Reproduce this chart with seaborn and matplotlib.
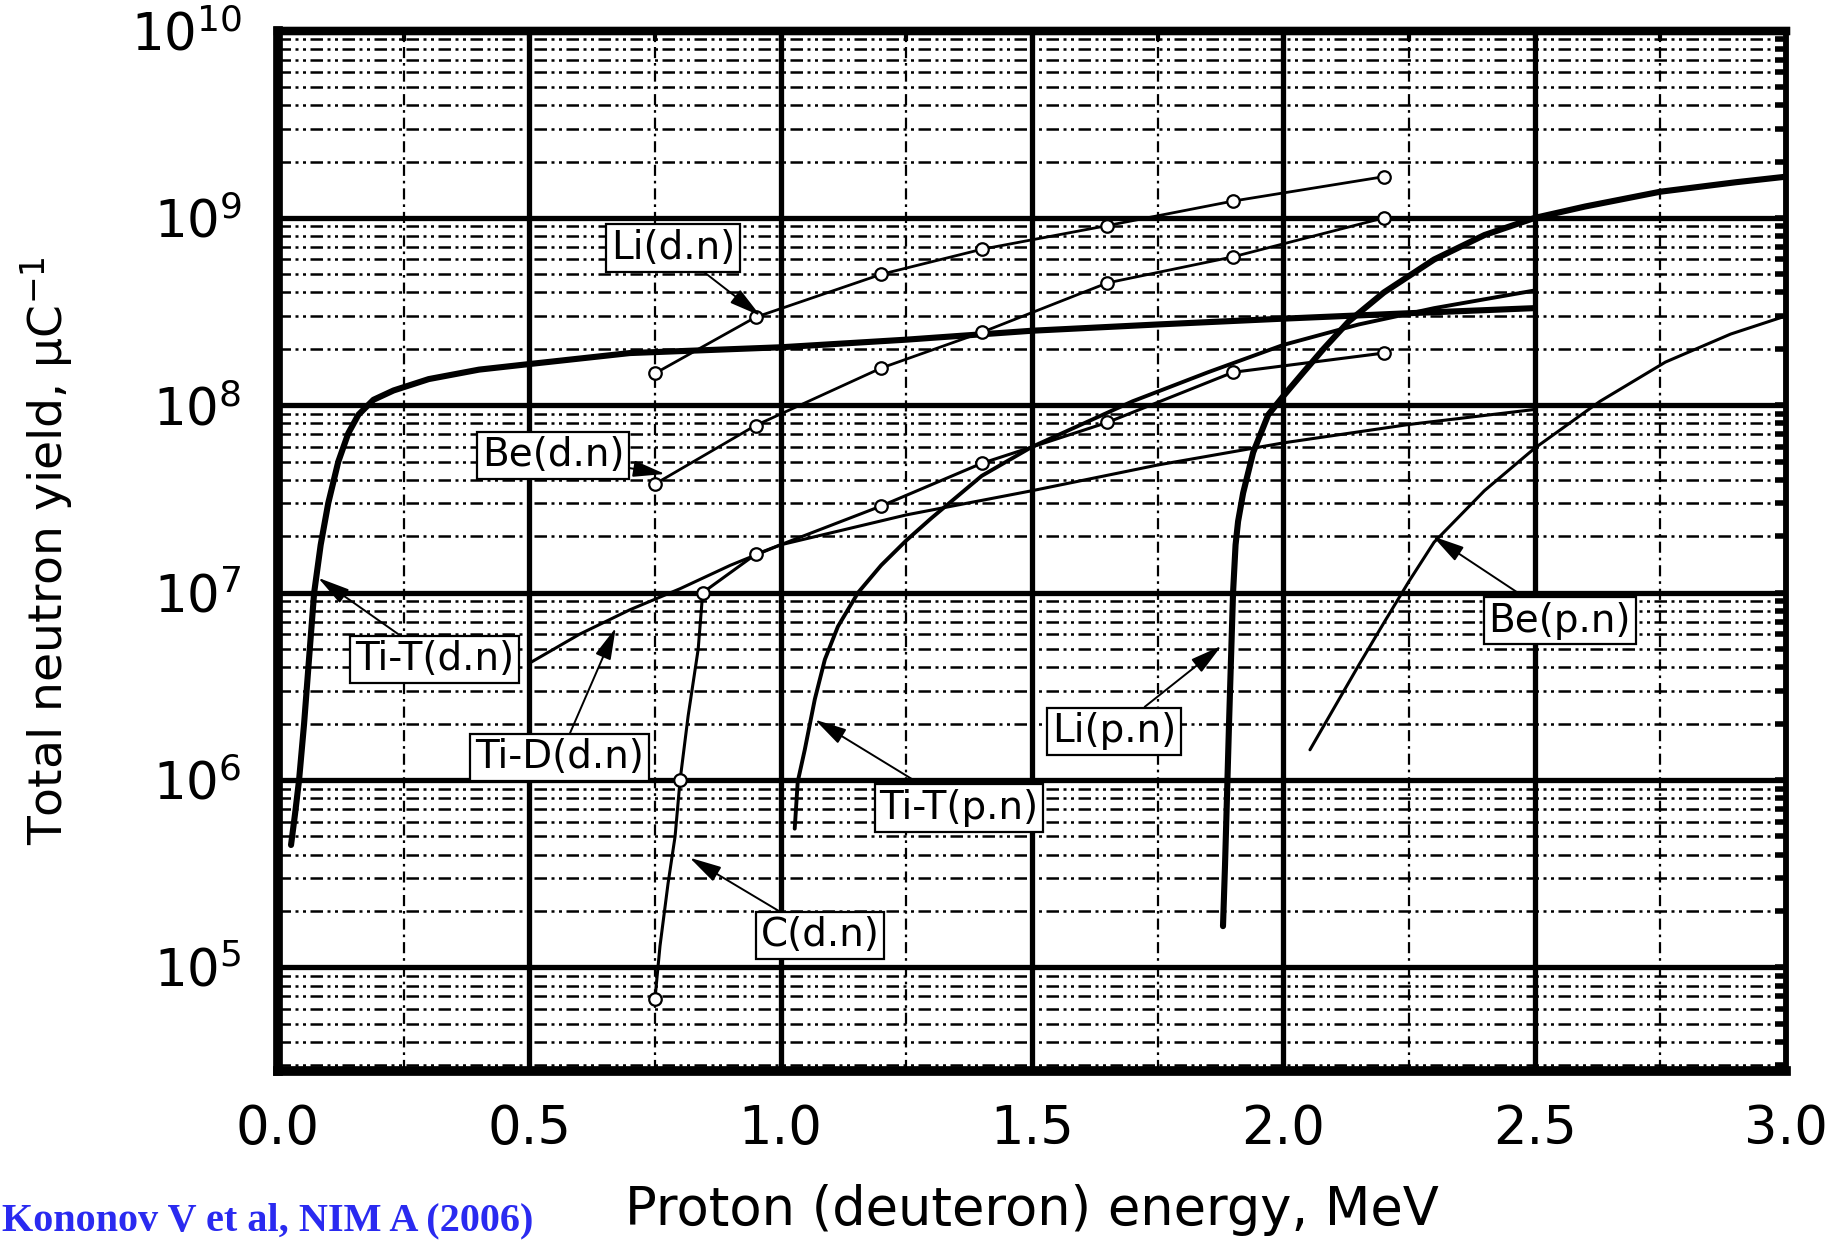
import numpy as np
import pandas as pd
import matplotlib
matplotlib.use("Agg")
import matplotlib.pyplot as plt
import seaborn as sns
from matplotlib.ticker import FixedLocator, MultipleLocator, LogLocator, FuncFormatter, NullFormatter

# ---------------- data ----------------
titd_x = [0.026, 0.034, 0.042, 0.052, 0.062, 0.072, 0.085, 0.10, 0.12, 0.14, 0.16, 0.19,
          0.23, 0.30, 0.40, 0.50, 0.70, 1.00, 1.25, 1.50, 1.75, 2.00, 2.25, 2.50]
titd_y = [4.5e5, 6.6e5, 1.0e6, 2.0e6, 4.5e6, 1.0e7, 1.8e7, 3.0e7, 5.0e7, 7.1e7, 8.9e7, 1.07e8,
          1.2e8, 1.38e8, 1.55e8, 1.66e8, 1.9e8, 2.04e8, 2.24e8, 2.5e8, 2.7e8, 2.9e8, 3.1e8, 3.3e8]

tidd_x = [0.50, 0.60, 0.70, 0.80, 0.90, 1.00, 1.25, 1.50, 1.75, 2.00, 2.25, 2.50]
tidd_y = [4.2e6, 6.0e6, 8.1e6, 1.05e7, 1.4e7, 1.8e7, 2.6e7, 3.5e7, 4.8e7, 6.3e7, 7.9e7, 9.5e7]

cdn_x = [0.75, 0.76, 0.776, 0.79, 0.80, 0.816, 0.836, 0.845, 0.95, 1.20, 1.40, 1.65, 1.90, 2.20]
cdn_y = [6.8e4, 1.3e5, 2.8e5, 5.0e5, 1.0e6, 2.2e6, 5.0e6, 1.0e7, 1.6e7, 2.9e7, 4.9e7, 8.1e7, 1.5e8, 1.9e8]
cdn_marked = [0, 4, 7, 8, 9, 10, 11, 12, 13]

lidn_x = [0.75, 0.95, 1.20, 1.40, 1.65, 1.90, 2.20]
lidn_y = [1.48e8, 2.95e8, 5.0e8, 6.8e8, 9.1e8, 1.23e9, 1.66e9]

bedn_x = [0.75, 0.95, 1.20, 1.40, 1.65, 1.90, 2.20]
bedn_y = [3.8e7, 7.8e7, 1.58e8, 2.45e8, 4.5e8, 6.2e8, 1.0e9]

titp_x = [1.028, 1.034, 1.048, 1.068, 1.088, 1.114, 1.154, 1.20, 1.25, 1.30, 1.40, 1.50,
          1.70, 1.85, 2.00, 2.15, 2.30, 2.50]
titp_y = [5.5e5, 9.8e5, 1.45e6, 2.7e6, 4.4e6, 6.6e6, 1.0e7, 1.4e7, 1.9e7, 2.5e7, 4.2e7, 6.0e7,
          1.05e8, 1.5e8, 2.1e8, 2.7e8, 3.3e8, 4.1e8]

lipn_x = [1.880, 1.884, 1.888, 1.892, 1.897, 1.900, 1.905, 1.910, 1.92, 1.94, 1.97, 2.00, 2.04,
          2.08, 2.13, 2.20, 2.30, 2.40, 2.50, 2.60, 2.75, 2.90, 3.00]
lipn_y = [1.66e5, 3.5e5, 8.3e5, 2.0e6, 5.5e6, 1.0e7, 1.8e7, 2.4e7, 3.4e7, 5.6e7, 8.9e7, 1.12e8, 1.5e8,
          2.0e8, 2.8e8, 4.0e8, 6.0e8, 8.1e8, 1.0e9, 1.15e9, 1.38e9, 1.55e9, 1.66e9]

bepn_x = [2.053, 2.10, 2.15, 2.20, 2.25, 2.30, 2.40, 2.50, 2.63, 2.76, 2.89, 3.00]
bepn_y = [1.45e6, 2.4e6, 4.1e6, 6.9e6, 1.15e7, 1.86e7, 3.5e7, 5.9e7, 1.05e8, 1.7e8, 2.4e8, 3.0e8]

# labels: text, box centre (x, y), arrow tip (x, y)
label_text = ["Li(d.n)", "Be(d.n)", "Ti-T(d.n)", "Ti-D(d.n)", "C(d.n)", "Ti-T(p.n)", "Li(p.n)", "Be(p.n)"]
label_pos = [(0.786, 6.9e8), (0.547, 5.4e7), (0.311, 4.4e6), (0.56, 1.32e6),
             (1.078, 1.48e5), (1.355, 7.1e5), (1.663, 1.82e6), (2.55, 7.1e6)]
label_tip = [(0.96, 3.0e8), (0.77, 4.3e7), (0.08, 1.2e7), (0.672, 6.5e6),
             (0.819, 3.85e5), (1.068, 2.1e6), (1.877, 5.2e6), (2.297, 2.0e7)]

x_ticks = [0.0, 0.5, 1.0, 1.5, 2.0, 2.5, 3.0]
y_ticks = [1e5, 1e6, 1e7, 1e8, 1e9, 1e10]

# ---------------- style ----------------
sns.set_style("white")
plt.rcParams["font.family"] = ["DejaVu Sans"]
plt.rcParams["mathtext.default"] = "regular"
plt.rcParams["text.color"] = "black"
plt.rcParams["axes.labelcolor"] = "black"
plt.rcParams["xtick.color"] = "black"
plt.rcParams["ytick.color"] = "black"

fig = plt.figure(figsize=(18.42, 12.42), dpi=100)
ax = fig.add_axes([0.1509, 0.1377, 0.8187, 0.8377])
ax.set_yscale("log")

def draw(x, y, lw, marker=None, markevery=None):
    df = pd.DataFrame({"x": x, "y": y})
    kw = dict(color="black", linewidth=lw, estimator=None, sort=False, ax=ax, zorder=3)
    if marker:
        kw.update(marker=marker, markersize=9, markerfacecolor="white",
                  markeredgecolor="black", markeredgewidth=1.6)
        if markevery is not None:
            kw["markevery"] = markevery
    sns.lineplot(data=df, x="x", y="y", **kw)

draw(titd_x, titd_y, 4.4)
draw(tidd_x, tidd_y, 2.2)
draw(cdn_x, cdn_y, 2.2, marker="o", markevery=cdn_marked)
draw(lidn_x, lidn_y, 2.0, marker="o")
draw(bedn_x, bedn_y, 2.0, marker="o")
draw(titp_x, titp_y, 2.8)
draw(lipn_x, lipn_y, 4.4)
draw(bepn_x, bepn_y, 2.2)

for txt, pos, tip in zip(label_text, label_pos, label_tip):
    ax.annotate(txt, xy=tip, xytext=pos, ha="center", va="center", fontsize=28,
                bbox=dict(boxstyle="square,pad=0.12", fc="white", ec="black", lw=1.6),
                arrowprops=dict(arrowstyle="-|>,head_length=0.7,head_width=0.18",
                                color="black", lw=1.4, shrinkA=0, shrinkB=0),
                zorder=5)

ax.set_xlim(0, 3.0)
ax.set_ylim(2.8e4, 1e10)
ax.xaxis.set_major_locator(FixedLocator(x_ticks))
ax.xaxis.set_minor_locator(MultipleLocator(0.25))
ax.xaxis.set_major_formatter(FuncFormatter(lambda v, p: f"{v:.1f}"))
ax.yaxis.set_major_locator(FixedLocator(y_ticks))
ax.yaxis.set_minor_locator(LogLocator(base=10, subs=np.arange(2, 10), numticks=20))
ax.yaxis.set_major_formatter(FuncFormatter(lambda v, p: r"$10^{%d}$" % int(round(np.log10(v)))))
ax.yaxis.set_minor_formatter(NullFormatter())

ax.set_axisbelow(True)
ax.grid(which="major", color="black", linewidth=3.8, linestyle="-")
ax.grid(which="minor", axis="y", color="black", linewidth=1.8, linestyle=(0, (5, 1.8, 1.2, 1.8, 1.2, 1.8)))
ax.grid(which="minor", axis="x", color="black", linewidth=1.6, linestyle=(0, (5, 2.2, 1.2, 2.2)))

for side, w in (("left", 7), ("bottom", 7), ("top", 6), ("right", 4)):
    ax.spines[side].set_visible(True)
    ax.spines[side].set_linewidth(w)
    ax.spines[side].set_color("black")

ax.tick_params(axis="x", which="major", direction="out", length=15, width=3.4,
               labelsize=38, pad=8, color="black")
ax.tick_params(axis="x", which="minor", direction="out", length=8, width=3, color="black")
ax.tick_params(axis="y", which="major", direction="out", length=16, width=3.4,
               labelsize=37, pad=10, color="black")
ax.tick_params(axis="y", which="minor", direction="out", length=9, width=4, color="black")

# small inward ticks along the top and right frame
sec_x = ax.secondary_xaxis("top")
sec_x.xaxis.set_major_locator(FixedLocator(list(np.arange(0.25, 3.0, 0.25))))
sec_x.tick_params(axis="x", which="major", direction="in", length=7, width=3, labeltop=False)
sec_x.xaxis.set_minor_locator(FixedLocator([]))
sec_x.spines["top"].set_linewidth(6)
sec_y = ax.secondary_yaxis("right")
sec_y.set_yscale("log")
sec_y.yaxis.set_major_locator(LogLocator(base=10, subs=np.arange(1, 10), numticks=40))
sec_y.yaxis.set_minor_locator(FixedLocator([]))
sec_y.tick_params(axis="y", which="major", direction="in", length=8, width=4, labelright=False)
sec_y.spines["right"].set_linewidth(4)

ax.set_xlabel("Proton (deuteron) energy, MeV", fontsize=38)
ax.set_ylabel(r"Total neutron yield, μC$^{-1}$", fontsize=34)
ax.xaxis.set_label_coords(0.5, -0.134)
ax.xaxis.label.set_verticalalignment("center")
ax.yaxis.set_label_coords(-0.153, 0.5)
ax.yaxis.label.set_verticalalignment("center")

fig.text(0.001, 0.009, "Kononov V et al, NIM A (2006)", color="#2a2af0",
         fontfamily=["Liberation Serif"], fontweight="bold", fontsize=29, va="baseline", ha="left")

fig.savefig("out.png", dpi=100, facecolor="white")
